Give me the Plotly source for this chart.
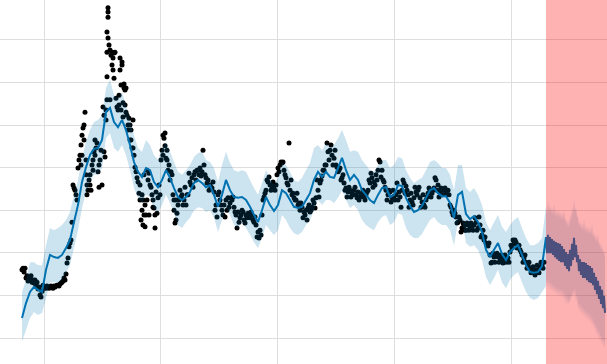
import pandas as pd
import plotly.graph_objects as go

# ---------------- data ----------------
obs_start = "2017-10-24"          # first observation, one value every 75 h
obs_vals = [
    16.0, 16.4, 15.5, 16.4, 14.1, 14.6, 13.4, 13.8, 13.6, 14.6,
    13.1, 13.6, 12.9, 13.6, 12.4, 13.1, 11.5, 12.0, 10.1, 9.6,
    11.0, 12.4, 11.7, 12.0, 11.7, 12.2, 12.0, 11.7, 12.0, 12.2,
    12.0, 11.7, 12.2, 12.0, 12.2, 12.4, 12.4, 12.2, 12.7, 12.9,
    13.1, 13.4, 14.1, 13.6, 15.0, 17.6, 18.8, 21.4, 22.3, 23.0,
    27.2, 35.9, 35.2, 34.7, 33.6, 32.4, 39.9, 41.8, 42.9, 40.6,
    47.6, 49.3, 50.0, 53.0, 38.3, 35.9, 34.7, 37.1, 35.9, 34.7,
    40.6, 41.8, 43.7, 42.9, 44.6, 45.8, 39.0, 35.4, 41.8, 44.1,
    35.9, 54.2, 43.7, 42.5, 53.5, 61.3, 76.5, 68.8, 67.6, 66.4,
    64.1, 62.9, 61.0, 67.1, 56.3, 54.2, 53.5, 57.0, 62.9, 59.4,
    64.8, 55.2, 58.7, 58.2, 53.0, 52.3, 50.0, 51.6, 46.5, 48.8,
    44.6, 51.2, 42.9, 40.1, 39.0, 37.6, 36.6, 34.0, 32.4, 27.7,
    30.0, 32.4, 38.3, 26.1, 28.9, 39.4, 37.1, 38.7, 35.9, 35.4,
    33.6, 30.7, 30.5, 25.8, 34.3, 29.3, 32.9, 35.9, 33.6, 41.8,
    44.1, 47.6, 46.9, 48.1, 42.2, 41.8, 39.4, 40.6, 37.1, 39.0,
    38.3, 33.6, 30.0, 27.0, 32.4, 29.3, 31.2, 32.4, 34.7, 33.1,
    33.6, 31.2, 32.4, 35.4, 31.2, 33.6, 33.6, 38.7, 36.6, 35.9,
    37.6, 35.4, 38.3, 39.0, 37.1, 39.4, 39.4, 38.3, 39.9, 38.0,
    39.0, 44.1, 40.6, 38.3, 37.6, 36.4, 37.1, 34.7, 35.9, 35.4,
    35.2, 36.6, 34.3, 30.0, 31.2, 28.4, 33.6, 34.3, 32.4, 31.2,
    30.0, 28.9, 31.2, 28.4, 32.4, 30.0, 32.9, 30.7, 31.7, 32.9,
    32.4, 33.1, 30.7, 29.6, 28.9, 25.8, 29.6, 27.2, 28.2, 28.9,
    30.0, 29.6, 27.7, 27.0, 28.9, 28.2, 29.3, 28.4, 28.2, 29.6,
    28.9, 27.7, 27.2, 28.4, 26.5, 23.7, 24.9, 23.5, 25.3, 24.2,
    28.9, 32.4, 33.1, 34.0, 34.7, 37.1, 36.6, 37.8, 35.9, 34.7,
    35.2, 36.6, 35.7, 34.7, 35.9, 38.3, 39.9, 39.0, 40.6, 41.3,
    41.1, 41.3, 39.4, 38.3, 37.6, 36.4, 35.9, 45.8, 34.7, 37.1,
    33.6, 34.0, 32.9, 32.4, 32.4, 34.0, 31.2, 31.7, 30.0, 31.7,
    30.7, 28.2, 29.6, 28.9, 30.0, 27.7, 30.5, 31.2, 29.6, 30.0,
    30.7, 32.4, 31.7, 30.5, 32.9, 37.1, 34.7, 33.1, 36.4, 37.1,
    38.0, 39.4, 39.4, 40.6, 40.6, 45.8, 43.7, 41.8, 44.1, 45.3,
    42.9, 40.6, 42.2, 44.1, 40.6, 40.1, 39.0, 39.4, 39.9, 37.1,
    37.6, 38.3, 36.4, 34.7, 35.2, 33.1, 34.3, 35.4, 34.7, 33.1,
    34.0, 33.6, 34.7, 35.4, 33.6, 32.9, 34.3, 32.4, 33.1, 33.6,
    34.0, 34.7, 33.1, 32.4, 33.6, 34.3, 34.7, 37.1, 36.4, 38.7,
    37.6, 35.4, 36.6, 35.9, 38.3, 37.1, 39.4, 41.8, 41.3, 37.8,
    39.4, 37.1, 36.6, 35.4, 34.7, 32.4, 33.6, 34.7, 34.3, 31.9,
    32.9, 34.7, 33.3, 32.4, 33.6, 36.4, 32.4, 34.3, 33.1, 30.7,
    34.7, 37.1, 36.4, 34.0, 35.7, 34.7, 33.6, 30.7, 32.4, 34.0,
    31.9, 31.2, 32.9, 35.4, 34.3, 33.6, 34.7, 35.4, 32.9, 30.7,
    31.9, 33.6, 31.2, 30.7, 32.4, 33.1, 34.0, 35.2, 34.7, 33.1,
    34.0, 34.7, 35.2, 37.6, 37.1, 34.7, 35.9, 33.1, 34.3, 35.2,
    33.6, 33.6, 34.7, 35.2, 34.3, 33.6, 34.7, 33.6, 31.2, 30.7,
    29.6, 28.9, 30.0, 29.3, 28.4, 27.0, 27.2, 28.4, 27.7, 24.9,
    25.8, 27.0, 26.3, 25.3, 25.3, 27.0, 26.5, 25.3, 25.8, 27.0,
    26.1, 25.3, 26.5, 28.2, 27.2, 25.3, 25.8, 28.4, 26.5, 23.7,
    24.2, 25.3, 23.0, 23.7, 22.3, 21.8, 21.6, 22.3, 19.5, 17.6,
    17.8, 19.9, 19.0, 17.8, 19.5, 19.9, 19.0, 17.8, 18.8, 19.5,
    18.3, 17.6, 18.8, 19.5, 17.8, 18.3, 18.8, 17.8, 20.2, 21.8,
    21.1, 23.0, 22.1, 23.0, 22.5, 21.1, 21.8, 21.8, 20.7, 20.2,
    19.5, 17.8, 18.8, 19.5, 17.8, 16.4, 17.1, 17.8, 16.4, 15.3,
    16.0, 16.7, 15.5, 14.8, 16.0, 17.1, 16.0, 15.3, 16.7, 17.8,
    17.1, 16.4, 17.8,
]
# additional observations (days after obs_start) where the cloud is tall
extra_day = [268.75, 268.75, 265.6, 268.75, 265.6, 281.25, 284.4, 287.5, 275, 262.5,
             256.25, 265.6, 303.1, 309.4, 321.9, 315.6, 306.25, 312.5, 318.75, 325,
             331.25, 337.5, 340.6, 346.9, 368.75, 375, 381.25, 384.4, 378.1, 390.6,
             396.9, 184.4, 187.5, 193.75, 200, 203.1, 212.5, 221.9, 228.1, 240.6,
             446.9, 440.6, 453.1, 415.6, 409.4, 475, 481.25]
extra_vals = [77.5, 75.3, 71.8, 70.4, 67.1, 67.1, 65.7, 66.9, 55.9, 51.2,
              52.3, 55.9, 54.7, 53.5, 54.7, 51.9, 65.7, 64.1, 59.6, 58.7,
              48.8, 50.0, 46.5, 44.6, 35.9, 33.6, 28.9, 31.2, 26.5, 32.4,
              28.9, 45.3, 42.9, 46.5, 41.8, 33.6, 38.3, 39.4, 46.5, 40.6,
              45.1, 42.9, 44.1, 28.9, 32.4, 32.4, 27.7]

# fitted values over the history, one value every 300 h from obs_start
fit_yhat = [
    4.7, 8.2, 10.8, 12.0, 11.3, 10.8, 16.0, 19.5, 19.0, 18.8,
    19.5, 21.1, 23.0, 27.2, 31.2, 36.6, 40.1, 43.0, 44.4, 44.6,
    46.5, 53.1, 54.0, 50.7, 49.5, 51.2, 48.8, 45.3, 41.3, 39.0,
    37.8, 39.9, 39.4, 36.6, 35.4, 37.1, 39.4, 37.6, 35.2, 33.1,
    32.4, 33.1, 34.3, 36.4, 37.1, 36.4, 35.4, 35.9, 33.6, 30.8,
    33.6, 37.1, 34.7, 33.1, 32.9, 33.1, 32.4, 30.8, 28.9, 27.2,
    30.0, 33.1, 31.2, 29.8, 31.2, 34.7, 34.0, 32.4, 30.8, 30.5,
    30.8, 32.4, 34.0, 37.1, 39.0, 37.8, 39.0, 37.8, 37.6, 39.9,
    42.3, 39.4, 37.1, 38.3, 37.1, 34.7, 33.6, 32.4, 31.7, 33.6,
    35.2, 35.4, 33.1, 33.6, 35.9, 35.7, 32.9, 31.0, 29.6, 30.0,
    31.0, 32.9, 34.7, 35.2, 34.0, 33.3, 33.3, 31.7, 28.2, 33.6,
    34.3, 29.1, 27.9, 28.6, 27.2, 24.9, 20.7, 19.0, 20.7, 22.3,
    19.7, 18.3, 20.2, 21.1, 21.8, 19.5, 17.1, 15.5, 15.3, 15.5,
    16.9, 19.5,
]
fit_upper = [
    10.8, 13.6, 17.8, 17.8, 17.1, 17.1, 21.8, 25.8, 25.3, 25.8,
    26.5, 27.7, 29.6, 33.6, 37.1, 42.2, 46.0, 48.8, 50.7, 51.2,
    52.3, 58.7, 60.6, 57.0, 56.3, 57.7, 54.7, 51.2, 47.6, 44.6,
    43.7, 46.5, 45.3, 42.9, 41.8, 44.6, 46.0, 43.7, 41.3, 39.0,
    38.3, 39.4, 40.6, 42.5, 43.4, 43.7, 41.8, 41.3, 39.9, 36.6,
    40.6, 43.7, 41.1, 39.4, 39.0, 39.4, 39.0, 37.1, 35.2, 33.6,
    36.4, 39.4, 37.6, 35.9, 37.6, 41.1, 40.6, 39.0, 37.1, 36.6,
    37.6, 39.4, 41.1, 44.6, 45.3, 44.1, 45.8, 44.8, 45.3, 46.9,
    48.8, 46.5, 43.7, 44.1, 43.7, 41.8, 40.6, 39.4, 39.0, 40.6,
    41.8, 41.8, 39.9, 40.6, 42.5, 42.2, 39.4, 37.6, 36.4, 37.1,
    37.6, 39.4, 41.3, 41.8, 41.1, 39.9, 39.9, 38.3, 34.7, 40.6,
    40.6, 35.2, 34.3, 35.2, 33.6, 31.2, 27.2, 25.3, 27.2, 28.9,
    26.1, 24.9, 26.5, 27.7, 28.4, 25.8, 23.5, 21.8, 21.8, 22.3,
    23.5, 25.8,
]
fit_lower = [
    -0.9, 1.9, 4.7, 6.1, 5.4, 5.9, 9.4, 13.1, 13.1, 12.9,
    13.6, 15.3, 17.1, 21.1, 25.3, 30.5, 34.3, 36.6, 38.3, 38.3,
    39.9, 46.9, 48.1, 44.6, 43.7, 45.3, 42.9, 39.4, 35.2, 32.9,
    31.7, 33.6, 33.1, 30.5, 29.3, 31.2, 33.6, 31.7, 29.3, 26.5,
    25.8, 27.2, 28.2, 30.0, 30.7, 30.5, 29.6, 30.0, 28.2, 24.9,
    27.7, 30.7, 28.9, 26.5, 25.8, 27.2, 25.8, 24.2, 22.5, 21.1,
    23.5, 26.5, 25.3, 24.2, 25.3, 28.9, 27.7, 25.8, 24.6, 24.2,
    24.9, 26.5, 27.7, 30.0, 32.4, 31.2, 32.4, 32.4, 31.7, 32.9,
    34.7, 32.4, 30.5, 31.2, 30.0, 27.7, 26.5, 25.8, 25.3, 27.2,
    28.4, 28.9, 26.5, 27.2, 29.3, 28.9, 25.8, 24.2, 23.5, 23.5,
    24.4, 26.1, 27.7, 28.4, 27.2, 26.5, 26.5, 25.3, 21.8, 27.2,
    27.7, 22.3, 21.4, 21.8, 20.7, 18.3, 14.3, 12.4, 14.1, 16.0,
    13.1, 11.7, 13.6, 14.8, 15.5, 13.1, 10.8, 9.4, 8.9, 9.4,
    10.8, 13.1,
]

# forecast period: crest / trough of the fast oscillation, one pair every 150 h
fc_yhat_hi = [23.7, 24.2, 23.7, 23.2, 22.8, 22.5, 22.3, 22.1, 21.6, 20.9,
              20.2, 19.7, 20.7, 22.1, 23.5, 21.8, 19.5, 18.5, 17.8, 17.8,
              17.6, 17.1, 16.9, 16.4, 15.3, 14.3, 13.4, 12.2, 11.3, 9.9]
fc_yhat_lo = [19.9, 19.9, 19.9, 19.5, 19.0, 18.5, 18.1, 17.8, 17.8, 16.9,
              16.2, 15.7, 16.9, 18.3, 19.0, 17.8, 15.7, 14.8, 14.1, 14.1,
              13.6, 13.1, 12.9, 12.4, 11.3, 10.3, 9.2, 8.0, 7.0, 5.9]
fc_upper_hi = [31.0, 32.2, 31.2, 30.8, 31.5, 30.3, 30.1, 29.8, 29.6, 30.3,
               28.2, 27.7, 29.1, 30.8, 32.6, 30.5, 28.2, 27.5, 27.0, 27.9,
               26.5, 26.3, 26.1, 26.8, 24.9, 24.2, 24.4, 22.6, 21.8, 20.7]
fc_upper_lo = [29.1, 29.6, 29.3, 28.9, 28.6, 28.4, 28.2, 27.9, 27.7, 27.2,
               26.3, 25.8, 27.2, 28.9, 29.8, 28.6, 26.3, 25.6, 25.1, 24.9,
               24.6, 24.4, 24.2, 23.7, 23.0, 22.3, 21.6, 20.7, 19.9, 18.8]
fc_lower_hi = [14.1, 13.6, 13.1, 12.7, 12.4, 12.0, 11.7, 11.5, 11.3, 10.6,
               9.9, 9.4, 10.1, 11.3, 11.7, 10.3, 8.5, 7.8, 7.3, 6.8,
               6.3, 5.9, 5.4, 4.7, 3.8, 2.8, 1.9, 0.9, 0.2, -0.5]
fc_lower_lo = [12.2, 11.7, 11.2, 10.8, 10.5, 10.1, 9.8, 9.6, 9.4, 8.7,
               8.0, 7.5, 8.2, 9.4, 9.8, 8.4, 6.6, 5.9, 5.4, 4.9,
               4.4, 4.0, 3.5, 2.8, 1.9, 0.9, 0.0, -1.0, -1.7, -2.4]

# ---------------- build series ----------------
start = pd.Timestamp(obs_start)
obs_x = list(pd.date_range(start, periods=len(obs_vals), freq="75h"))
obs_x += list(start + pd.to_timedelta(extra_day, unit="D"))
obs_y = obs_vals + extra_vals

fit_x = list(pd.date_range(start, periods=len(fit_yhat), freq="300h"))
fc_start = fit_x[-1]
fc_base = pd.date_range(fc_start, periods=len(fc_yhat_hi), freq="150h")
fc_x = []
for t in fc_base:
    fc_x += [t, t + pd.Timedelta(hours=75)]


def zig(a, b):
    out = []
    for p, q in zip(a, b):
        out += [p, q]
    return out


all_x = fit_x[:-1] + fc_x
yhat = fit_yhat[:-1] + zig(fc_yhat_hi, fc_yhat_lo)
upper = fit_upper[:-1] + zig(fc_upper_hi, fc_upper_lo)
lower = fit_lower[:-1] + zig(fc_lower_lo, fc_lower_hi)

BLUE = "#0072B2"
BAND = "rgba(0,114,178,0.2)"

fig = go.Figure()
fig.add_trace(go.Scatter(x=obs_x, y=obs_y, mode="markers", name="Actual",
                         marker=dict(color="black", size=5)))
fig.add_trace(go.Scatter(x=all_x, y=lower, mode="lines", name="Lower",
                         line=dict(width=0, simplify=False), hoverinfo="skip",
                         showlegend=False))
fig.add_trace(go.Scatter(x=all_x, y=yhat, mode="lines", name="Predicted",
                         line=dict(color=BLUE, width=2, simplify=False),
                         fill="tonexty", fillcolor=BAND))
fig.add_trace(go.Scatter(x=all_x, y=upper, mode="lines", name="Upper",
                         line=dict(width=0, simplify=False), fill="tonexty",
                         fillcolor=BAND, hoverinfo="skip", showlegend=False))

x_lo = start - pd.Timedelta(hours=75 * 22)
x_hi = start + pd.Timedelta(hours=75 * 585)

fig.add_vrect(x0=fc_start, x1=x_hi + pd.Timedelta(days=30), fillcolor="red",
              opacity=0.3, line_width=0, layer="above")

fig.update_layout(
    width=607, height=364, autosize=False,
    margin=dict(l=0, r=0, t=0, b=0, pad=0),
    paper_bgcolor="white", plot_bgcolor="white",
    showlegend=False,
    xaxis=dict(type="date", range=[x_lo, x_hi], showticklabels=False,
               showgrid=True, gridcolor="#dedede", gridwidth=1,
               tick0="2018-01-01", dtick="M12", zeroline=False,
               showline=False, ticks=""),
    yaxis=dict(range=[-6.10, 79.34], showticklabels=False, showgrid=True,
               gridcolor="#dedede", gridwidth=1, tick0=0, dtick=10,
               zeroline=False, showline=False, ticks=""),
)

fig.write_html("out.html", config={"displayModeBar": False},
               post_script="document.body.style.margin='0';"
                           "document.body.style.padding='0';")
